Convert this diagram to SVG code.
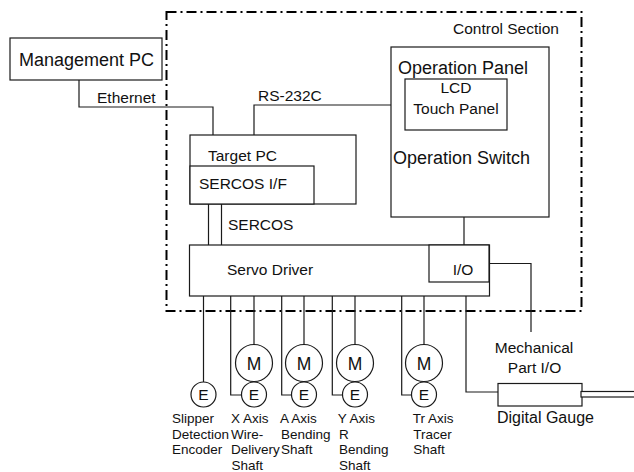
<svg xmlns="http://www.w3.org/2000/svg" width="634" height="472" viewBox="0 0 634 472">
<style>
  .box{fill:#fff;stroke:#1a1a1a;stroke-width:1.2}
  .ln{fill:none;stroke:#1a1a1a;stroke-width:1.2}
  .t{font-family:"Liberation Sans",Arial,sans-serif;fill:#111}
  .big{font-size:18px}
  .mid{font-size:15.5px}
  .sm{font-size:13.5px}
  .m{font-size:17.5px}
  .e{font-size:15.5px}
  .dash{fill:none;stroke:#000;stroke-width:2;stroke-dasharray:10 4 2 4}
</style>
<rect width="634" height="472" fill="#fff"/>

<g id="control-section">
  <rect class="dash" x="166.5" y="12" width="415" height="299"/>
  <text class="t mid" x="453" y="34">Control Section</text>
</g>

<g id="connectors">
  <polyline class="ln" points="79,80 79,107 213,107 213,135"/>
  <polyline class="ln" points="254,135 254,105 405,105"/>
  <line class="ln" x1="464" y1="171" x2="464" y2="245"/>
  <line class="ln" x1="208.5" y1="204" x2="208.5" y2="245"/>
  <line class="ln" x1="221.5" y1="204" x2="221.5" y2="245"/>
  <polyline class="ln" points="489,263.5 531,263.5 531,332"/>
  <polyline class="ln" points="466,296 466,392 498,392"/>
  <line class="ln" x1="203.5" y1="296" x2="203.5" y2="382"/>
  <polyline class="ln" points="230.7,296 230.7,395 242,395"/>
  <line class="ln" x1="254" y1="296" x2="254" y2="345"/>
  <polyline class="ln" points="281.7,296 281.7,395 292,395"/>
  <line class="ln" x1="304" y1="296" x2="304" y2="345"/>
  <polyline class="ln" points="332.3,296 332.3,395 343,395"/>
  <line class="ln" x1="355" y1="296" x2="355" y2="345"/>
  <polyline class="ln" points="401.7,296 401.7,395 412,395"/>
  <line class="ln" x1="424" y1="296" x2="424" y2="345"/>
  <text class="t mid" x="97" y="103">Ethernet</text>
  <text class="t mid" x="258" y="101">RS-232C</text>
  <text class="t mid" x="228" y="230">SERCOS</text>
</g>

<g id="management-pc">
  <rect class="box" x="10" y="38" width="152" height="42"/>
  <text class="t big" x="86.5" y="66" text-anchor="middle">Management PC</text>
</g>

<g id="target-pc">
  <rect class="box" x="190" y="135" width="166" height="69"/>
  <text class="t mid" x="208" y="161">Target PC</text>
</g>

<g id="sercos-if">
  <rect class="box" x="190" y="166" width="124" height="38"/>
  <text class="t mid" x="199" y="188.5">SERCOS I/F</text>
</g>

<g id="operation-panel">
  <rect class="box" x="391" y="47" width="158" height="170"/>
  <text class="t big" x="398" y="74">Operation Panel</text>
  <text class="t big" x="393" y="164">Operation Switch</text>
</g>

<g id="lcd">
  <rect class="box" x="405" y="79" width="102" height="51"/>
  <text class="t mid" x="456" y="93" text-anchor="middle">LCD</text>
  <text class="t mid" x="456" y="114" text-anchor="middle">Touch Panel</text>
</g>

<g id="servo-driver">
  <rect class="box" x="189.5" y="245" width="300" height="51"/>
  <text class="t mid" x="227" y="275">Servo Driver</text>
</g>

<g id="io">
  <rect class="box" x="429" y="245" width="60" height="37"/>
  <text class="t mid" x="463" y="275" text-anchor="middle">I/O</text>
</g>

<g id="mechanical-io">
  <text class="t mid" x="534" y="353" text-anchor="middle">Mechanical</text>
  <text class="t mid" x="534.5" y="373" text-anchor="middle">Part I/O</text>
</g>

<g id="digital-gauge">
  <rect class="box" x="498" y="383.5" width="84" height="22.5"/>
  <rect class="box" x="581" y="391.5" width="60" height="5.5"/>
  <text class="t" style="font-size:16px" x="497" y="423">Digital Gauge</text>
</g>

<g id="slipper-encoder">
  <circle class="box" cx="203.5" cy="394.5" r="12.5"/>
  <text class="t e" x="203.5" y="400" text-anchor="middle">E</text>
  <text class="t sm" x="172" y="423">Slipper</text>
  <text class="t sm" x="172" y="438.5">Detection</text>
  <text class="t sm" x="172" y="454">Encoder</text>
</g>

<g id="x-axis">
  <circle class="box" cx="254" cy="363" r="18.5"/>
  <text class="t m" x="254" y="369.5" text-anchor="middle">M</text>
  <circle class="box" cx="254" cy="394.5" r="12.5"/>
  <text class="t e" x="254" y="400" text-anchor="middle">E</text>
  <text class="t sm" x="231" y="423">X Axis</text>
  <text class="t sm" x="231" y="438.5">Wire-</text>
  <text class="t sm" x="231" y="454">Delivery</text>
  <text class="t sm" x="231.5" y="469.5">Shaft</text>
</g>

<g id="a-axis">
  <circle class="box" cx="304" cy="363" r="18.5"/>
  <text class="t m" x="304" y="369.5" text-anchor="middle">M</text>
  <circle class="box" cx="304" cy="394.5" r="12.5"/>
  <text class="t e" x="304" y="400" text-anchor="middle">E</text>
  <text class="t sm" x="280" y="423">A Axis</text>
  <text class="t sm" x="281" y="438.5">Bending</text>
  <text class="t sm" x="281" y="454">Shaft</text>
</g>

<g id="y-axis">
  <circle class="box" cx="355" cy="363" r="18.5"/>
  <text class="t m" x="355" y="369.5" text-anchor="middle">M</text>
  <circle class="box" cx="355" cy="394.5" r="12.5"/>
  <text class="t e" x="355" y="400" text-anchor="middle">E</text>
  <text class="t sm" x="337.7" y="423">Y Axis</text>
  <text class="t sm" x="339" y="438.5">R</text>
  <text class="t sm" x="339" y="454">Bending</text>
  <text class="t sm" x="339" y="469.5">Shaft</text>
</g>

<g id="tr-axis">
  <circle class="box" cx="424" cy="363" r="18.5"/>
  <text class="t m" x="424" y="369.5" text-anchor="middle">M</text>
  <circle class="box" cx="424" cy="394.5" r="12.5"/>
  <text class="t e" x="424" y="400" text-anchor="middle">E</text>
  <text class="t sm" x="412.7" y="423">Tr Axis</text>
  <text class="t sm" x="413.3" y="438.5">Tracer</text>
  <text class="t sm" x="413.3" y="454">Shaft</text>
</g>
</svg>
